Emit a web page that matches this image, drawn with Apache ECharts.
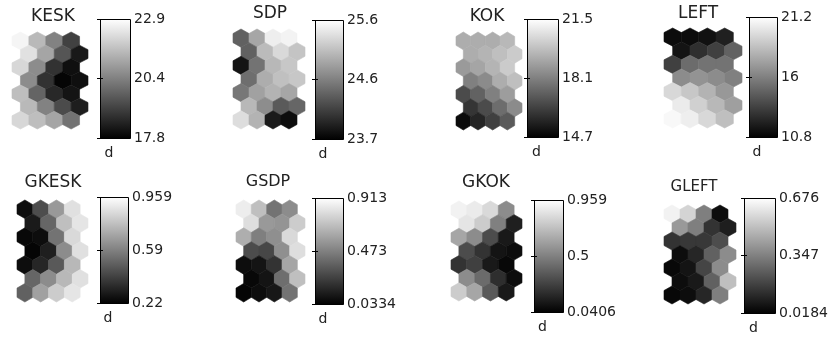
<!DOCTYPE html>
<html>
<head>
<meta charset="utf-8">
<script src="https://cdn.jsdelivr.net/npm/echarts@6/dist/echarts.min.js"></script>
<style>
  html, body { margin: 0; padding: 0; background: #fff; }
  #som-planes { width: 831px; height: 338px; }
</style>
</head>
<body>
<div id="som-planes"></div>
<script>
// component planes, 4 columns x 7 rows (top row first), hex lattice
const names = ['KESK', 'SDP', 'KOK', 'LEFT', 'GKESK', 'GSDP', 'GKOK', 'GLEFT'];

const kesk = [
  [22.7, 21.5, 20.4, 19.1],
  [22.3, 21.1, 19.5, 18.3],
  [22.1, 20.6, 18.8, 18.1],
  [20.6, 18.8, 17.9, 18.1],
  [21.6, 19.8, 18.6, 18.2],
  [21.5, 20.4, 19.3, 18.4],
  [22.1, 21.6, 21.1, 20.1]
];
const sdp = [
  [24.42, 24.94, 25.47, 25.51],
  [24.42, 25.09, 25.32, 25.16],
  [23.85, 24.56, 25.07, 25.18],
  [24.52, 24.99, 25.13, 25.18],
  [24.59, 24.90, 25.03, 24.94],
  [25.07, 24.75, 24.37, 24.46],
  [25.35, 25.03, 23.89, 23.80]
];
const kok = [
  [19.3, 19.3, 19.3, 19.6],
  [19.3, 19.5, 19.8, 20.1],
  [18.8, 19.1, 19.5, 20.1],
  [18.1, 18.4, 19.3, 19.8],
  [16.7, 17.3, 18.1, 18.9],
  [16.1, 16.7, 17.6, 18.4],
  [15.0, 15.7, 16.4, 17.1]
];
const left = [
  [11.3, 11.3, 11.5, 12.1],
  [11.6, 12.7, 13.4, 14.8],
  [13.4, 15.2, 15.5, 15.5],
  [16.5, 16.8, 16.5, 16.0],
  [19.6, 18.9, 18.1, 17.0],
  [20.4, 19.3, 18.3, 17.3],
  [20.9, 20.5, 19.6, 18.6]
];
const gkesk = [
  [0.257, 0.442, 0.663, 0.870],
  [0.294, 0.516, 0.774, 0.885],
  [0.242, 0.257, 0.553, 0.848],
  [0.235, 0.309, 0.626, 0.870],
  [0.257, 0.331, 0.479, 0.752],
  [0.516, 0.626, 0.752, 0.870],
  [0.501, 0.686, 0.811, 0.885]
];
const gsdp = [
  [0.851, 0.693, 0.429, 0.517],
  [0.799, 0.561, 0.544, 0.737],
  [0.632, 0.473, 0.526, 0.781],
  [0.297, 0.280, 0.526, 0.799],
  [0.077, 0.104, 0.209, 0.605],
  [0.060, 0.104, 0.412, 0.693],
  [0.051, 0.077, 0.113, 0.429]
];
const gkok = [
  [0.913, 0.886, 0.821, 0.546],
  [0.867, 0.775, 0.500, 0.151],
  [0.638, 0.546, 0.316, 0.132],
  [0.316, 0.224, 0.114, 0.087],
  [0.224, 0.270, 0.132, 0.068],
  [0.546, 0.426, 0.206, 0.087],
  [0.775, 0.638, 0.362, 0.132]
];
const gleft = [
  [0.643, 0.564, 0.347, 0.051],
  [0.413, 0.347, 0.150, 0.097],
  [0.150, 0.163, 0.163, 0.216],
  [0.051, 0.117, 0.268, 0.380],
  [0.038, 0.071, 0.196, 0.380],
  [0.051, 0.084, 0.268, 0.512],
  [0.038, 0.051, 0.117, 0.347]
];
const planes = [kesk, sdp, kok, left, gkesk, gsdp, gkok, gleft];

// colorbar tick labels: min, middle, max
const barTicks = [
  ['17.8', '20.4', '22.9'],
  ['23.7', '24.6', '25.6'],
  ['14.7', '18.1', '21.5'],
  ['10.8', '16', '21.2'],
  ['0.22', '0.59', '0.959'],
  ['0.0334', '0.473', '0.913'],
  ['0.0406', '0.5', '0.959'],
  ['0.0184', '0.347', '0.676']
];
const barLabel = 'd';

// layout per panel: title centre, title size, hex box [x0,y0,x1,y1], colorbar box
const layout = [
  { title: [53, 8], size: 17, hex: [12, 32, 88, 129], bar: [100, 19, 130, 138] },
  { title: [270, 5], size: 17, hex: [233, 29, 305, 129], bar: [315, 20, 343, 139] },
  { title: [487, 8], size: 17, hex: [456, 32, 522, 130], bar: [527, 19, 558, 137] },
  { title: [698, 5], size: 17, hex: [664, 28, 742, 128], bar: [749, 17, 777, 137] },
  { title: [53, 174], size: 17, hex: [17, 200, 88, 302], bar: [100, 197, 128, 303] },
  { title: [268, 174], size: 16, hex: [236, 200, 305, 302], bar: [315, 198, 343, 304] },
  { title: [486, 174], size: 17, hex: [451, 201, 522, 301], bar: [534, 200, 563, 312] },
  { title: [694, 180], size: 15, hex: [664, 205, 736, 304], bar: [744, 198, 776, 313] }
];

const FONT = 'DejaVu Sans';
const R = 1 / Math.sqrt(3);   // hex circumradius, column spacing = 1
const ROW = 1.5 * R;          // row spacing

function renderHex(params, api) {
  const c = api.value(0), r = api.value(1);
  const cx = c + (r % 2) * 0.5, cy = r * ROW;
  const pts = [
    [cx, cy - R], [cx + 0.5, cy - R / 2], [cx + 0.5, cy + R / 2],
    [cx, cy + R], [cx - 0.5, cy + R / 2], [cx - 0.5, cy - R / 2]
  ].map(p => api.coord(p));
  const color = api.visual('color');
  return {
    type: 'polygon',
    shape: { points: pts },
    style: { fill: color, stroke: color, lineWidth: 0.6 }
  };
}

function renderBar(params, api) {
  const tl = api.coord([0, api.value(2)]);
  const br = api.coord([1, api.value(1)]);
  return {
    type: 'rect',
    shape: { x: Math.round(tl[0]) + 0.5, y: Math.round(tl[1]) + 0.5,
             width: Math.round(br[0] - tl[0]), height: Math.round(br[1] - tl[1]) },
    style: {
      fill: { type: 'linear', x: 0, y: 0, x2: 0, y2: 1,
              colorStops: [{ offset: 0, color: '#ffffff' }, { offset: 1, color: '#000000' }] },
      stroke: '#000', lineWidth: 1
    }
  };
}

const option = {
  animation: false,
  backgroundColor: '#fff',
  title: [], grid: [], xAxis: [], yAxis: [], series: [], visualMap: []
};

names.forEach((name, i) => {
  const L = layout[i];
  const ticks = barTicks[i];
  const vmin = Number(ticks[0]), vmax = Number(ticks[2]);
  const tickVals = [vmin, (vmin + vmax) / 2, vmax];

  option.title.push({
    text: name, left: L.title[0], top: L.title[1], textAlign: 'center', padding: 0,
    textStyle: { fontFamily: FONT, fontWeight: 'normal', fontSize: L.size, color: '#222' }
  });

  // hex plane
  const gHex = option.grid.length;
  option.grid.push({ left: L.hex[0], top: L.hex[1], width: L.hex[2] - L.hex[0], height: L.hex[3] - L.hex[1] });
  const xHex = option.xAxis.length;
  option.xAxis.push({ gridIndex: gHex, type: 'value', min: -0.5, max: 4, show: false });
  const yHex = option.yAxis.length;
  option.yAxis.push({ gridIndex: gHex, type: 'value', min: -R, max: 6 * ROW + R, inverse: true, show: false });

  const cells = [];
  planes[i].forEach((row, r) => row.forEach((v, c) => cells.push([c, r, v])));
  const sHex = option.series.length;
  option.series.push({
    type: 'custom', name: name, coordinateSystem: 'cartesian2d',
    xAxisIndex: xHex, yAxisIndex: yHex, renderItem: renderHex,
    encode: { x: 0, y: 1 }, data: cells, silent: true
  });
  option.visualMap.push({
    type: 'continuous', show: false, seriesIndex: sHex, dimension: 2,
    min: vmin, max: vmax, inRange: { color: ['#000000', '#ffffff'] }
  });

  // colorbar
  const gBar = option.grid.length;
  option.grid.push({ left: L.bar[0], top: L.bar[1], width: L.bar[2] - L.bar[0], height: L.bar[3] - L.bar[1] });
  const xBar = option.xAxis.length;
  option.xAxis.push({
    gridIndex: gBar, type: 'value', min: 0, max: 1,
    axisLine: { show: false }, axisTick: { show: false }, axisLabel: { show: false }, splitLine: { show: false },
    name: barLabel, nameLocation: 'middle', nameGap: 8,
    nameTextStyle: { fontFamily: FONT, fontSize: 14, color: '#222', padding: [0, 12, 0, 0] }
  });
  const yBar = option.yAxis.length;
  option.yAxis.push({
    gridIndex: gBar, type: 'value', position: 'right', min: vmin, max: vmax, z: 5,
    axisLine: { show: false }, splitLine: { show: false },
    axisTick: { show: true, inside: true, length: 3, customValues: tickVals, lineStyle: { color: '#000' } },
    axisLabel: {
      customValues: tickVals, margin: 4, fontFamily: FONT, fontSize: 14, color: '#222',
      formatter: v => ticks[tickVals.indexOf(v)]
    }
  });
  option.yAxis.push({
    gridIndex: gBar, type: 'value', position: 'left', min: vmin, max: vmax, z: 5,
    axisLine: { show: false }, splitLine: { show: false }, axisLabel: { show: false },
    axisTick: { show: true, inside: true, length: 3, customValues: tickVals, lineStyle: { color: '#000' } }
  });
  option.series.push({
    type: 'custom', coordinateSystem: 'cartesian2d', xAxisIndex: xBar, yAxisIndex: yBar,
    renderItem: renderBar, encode: { x: 0, y: [1, 2] }, data: [[0, vmin, vmax]], silent: true, z: 2
  });
});

const chart = echarts.init(document.getElementById('som-planes'));
chart.setOption(option);
</script>
</body>
</html>
